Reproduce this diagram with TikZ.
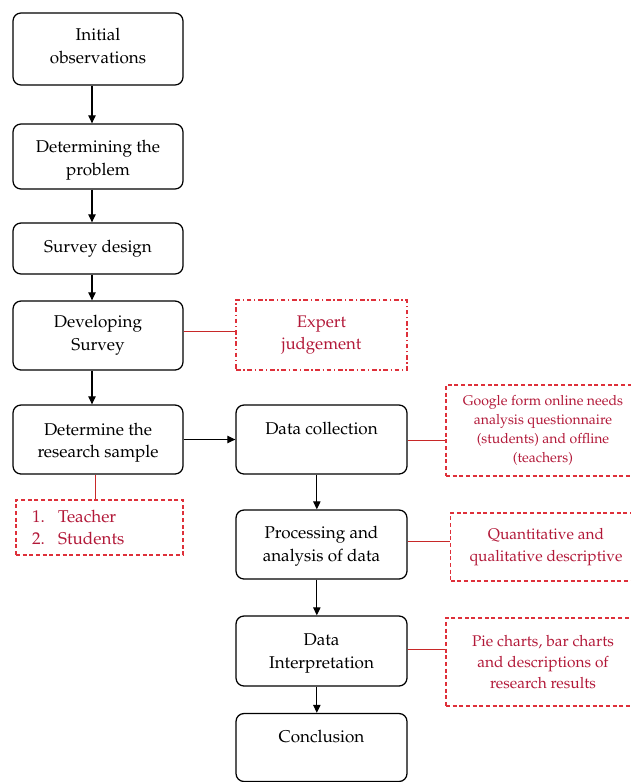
\documentclass[tikz,border=0pt]{standalone}
\usepackage[T1]{fontenc}
\usepackage{mathpazo}
\usetikzlibrary{arrows.meta}
\definecolor{redtxt}{RGB}{178,24,56}
\definecolor{redline}{RGB}{222,48,58}
\definecolor{redconn}{RGB}{200,40,40}
\newcommand{\topstrut}[1]{\rule{0pt}{#1}}
\newcommand{\botstrut}[1]{\rule[-#1]{0pt}{#1}}
\tikzset{
  box/.style={draw=black, line width=0.95pt, rounded corners=6pt, align=center, inner sep=1pt,
    font=\fontsize{12.8}{17.1}\selectfont},
  lbox/.style={box, minimum width=127.5pt},
  rbox/.style={box, minimum width=128.25pt},
  note/.style={draw=redline, line width=0.8pt, dash pattern=on 3pt off 2pt, text=redtxt, align=center, inner sep=1pt},
  notedd/.style={note, dash pattern=on 3.5pt off 2pt on 1pt off 2pt},
  arr/.style={-{Triangle[length=6pt,width=5.5pt]}, line width=0.9pt, black},
  conn/.style={redconn, line width=0.75pt},
}
\begin{document}
\begin{tikzpicture}[x=0.75pt,y=-0.75pt]
\useasboundingbox (0,0) rectangle (631,782);
\clip (0,0) rectangle (631,782);
% left column
\node[lbox, minimum height=54pt] (init) at (98,49) {Initial\\observations\botstrut{5pt}};
\node[lbox, minimum height=48.75pt] (prob) at (98,156.5) {\topstrut{15pt}Determining the\\problem};
\node[lbox, minimum height=38.25pt] (design) at (98,248.5) {Survey design};
\node[lbox, minimum height=51.75pt] (dev) at (98,335.5) {Developing\\Survey};
\node[lbox, minimum height=51.75pt] (sample) at (98,439.5) {\topstrut{14pt}Determine the\\research sample};
% right column
\node[rbox, minimum height=51.75pt] (collect) at (321.5,439.5) {Data collection\\\mbox{}};
\node[rbox, minimum height=51.75pt] (proc) at (321.5,544.5) {\topstrut{11.5pt}Processing and\\analysis of data};
\node[rbox, minimum height=52.5pt] (interp) at (321.5,651) {\topstrut{12pt}Data\\Interpretation};
\node[rbox, minimum height=51pt] (concl) at (321.5,747.5) {Conclusion\\\mbox{}};
% notes
\node[notedd, minimum width=128.25pt, minimum height=52.5pt, font=\fontsize{12.6}{16.5}\selectfont] (expert) at (321.5,335) {Expert\\judgement};
\node[note, minimum width=125.25pt, minimum height=41.25pt, align=left, text width=101pt, inner xsep=12pt, font=\fontsize{12.8}{16.5}\selectfont] (teach) at (99.5,527.5) {\makebox[19.5pt][l]{1.}Teacher\\\makebox[19.5pt][l]{2.}Students};
\node[note, minimum width=145.5pt, minimum height=68.25pt, font=\fontsize{10.5}{14.25}\selectfont] (google) at (543,430.5) {Google form online needs\\analysis questionnaire\\(students) and offline\\(teachers)};
\node[note, minimum width=143.25pt, minimum height=51pt, font=\fontsize{11.6}{16}\selectfont] (quant) at (546,547) {Quantitative and\\qualitative descriptive};
\node[note, minimum width=145.5pt, minimum height=66pt, font=\fontsize{11.6}{15.5}\selectfont] (pie) at (543,662) {Pie charts, bar charts\\and descriptions of\\research results};
% arrows
\draw[arr] ([xshift=-4.5pt]init.south) -- ([xshift=-4.5pt]prob.north);
\draw[arr] ([xshift=-4.5pt]prob.south) -- ([xshift=-4.5pt]design.north);
\draw[arr] ([xshift=-4.5pt]design.south) -- ([xshift=-4.5pt]dev.north);
\draw[arr] ([xshift=-4.5pt]dev.south) -- ([xshift=-4.5pt]sample.north);
\draw[arr] (sample.east) -- (collect.west);
\draw[arr] ([xshift=-3.5pt]collect.south) -- ([xshift=-3.5pt]proc.north);
\draw[arr] ([xshift=-3.5pt]proc.south) -- ([xshift=-3.5pt]interp.north);
\draw[arr] ([xshift=-3.5pt]interp.south) -- ([xshift=-3.5pt]concl.north);
% red connectors
\draw[conn] ([yshift=3pt]dev.east) -- ([yshift=3pt]dev.east -| expert.west);
\draw[conn] ([xshift=-2.25pt]sample.south) -- ([xshift=-2.25pt]sample.south |- teach.north);
\draw[conn] ([yshift=-1pt]collect.east) -- ([yshift=-1pt]collect.east -| google.west);
\draw[conn] ([yshift=2.5pt]proc.east) -- ([yshift=2.5pt]proc.east -| quant.west);
\draw[conn] ([yshift=1.5pt]interp.east) -- ([yshift=1.5pt]interp.east -| pie.west);
\end{tikzpicture}
\end{document}
